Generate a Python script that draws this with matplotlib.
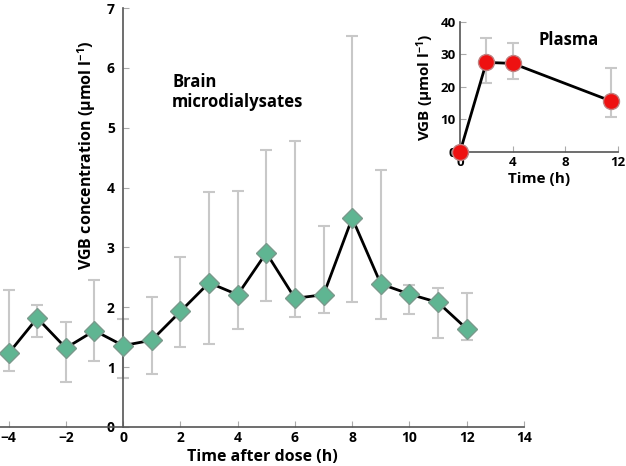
import matplotlib
matplotlib.use("Agg")
import matplotlib.pyplot as plt

plt.rcParams['font.family'] = ['Open Sans', 'DejaVu Sans']
plt.rcParams['font.weight'] = 'bold'
plt.rcParams['mathtext.fontset'] = 'custom'
plt.rcParams['mathtext.rm'] = 'Open Sans:bold'
plt.rcParams['mathtext.bf'] = 'Open Sans:bold'
plt.rcParams['mathtext.it'] = 'Open Sans:bold'
plt.rcParams['mathtext.default'] = 'bf'

# Brain microdialysates
brain_time = [-4, -3, -2, -1, 0, 1, 2, 3, 4, 5, 6, 7, 8, 9, 10, 11, 12]
brain_mean = [1.23, 1.82, 1.32, 1.61, 1.36, 1.45, 1.93, 2.41, 2.21, 2.91, 2.15, 2.21, 3.49, 2.39, 2.22, 2.08, 1.64]
brain_upper = [2.29, 2.03, 1.76, 2.46, 1.81, 2.17, 2.84, 3.93, 3.95, 4.62, 4.77, 3.35, 6.53, 4.30, 2.37, 2.32, 2.24]
brain_lower = [0.94, 1.50, 0.76, 1.10, 0.82, 0.88, 1.34, 1.39, 1.64, 2.10, 1.83, 1.91, 2.08, 1.80, 1.89, 1.48, 1.45]

# Plasma
plasma_time = [0, 2, 4, 11.5]
plasma_mean = [0, 27.5, 27.2, 15.6]
plasma_upper = [0, 35.1, 33.5, 25.7]
plasma_lower = [0, 21.1, 22.3, 10.8]

main_xticks = [-4, -2, 0, 2, 4, 6, 8, 10, 12, 14]
main_yticks = [0, 1, 2, 3, 4, 5, 6, 7]
inset_xticks = [0, 4, 8, 12]
inset_yticks = [0, 10, 20, 30, 40]

W, H = 626, 466
fig = plt.figure(figsize=(W / 100, H / 100), dpi=100)

green = '#5fb592'
grey_err = '#c8c8c8'
spine_col = '#555555'

# ---------- main axes ----------
ax = fig.add_axes([0 / W, (H - 427) / H, 524 / W, (427 - 8) / H])
ax.set_xlim(-4.3, 14)
ax.set_ylim(0, 7)
err_lo = [m - l for m, l in zip(brain_mean, brain_lower)]
err_hi = [u - m for m, u in zip(brain_mean, brain_upper)]
ax.errorbar(brain_time, brain_mean, yerr=[err_lo, err_hi], fmt='none',
            ecolor=grey_err, elinewidth=1.5, capsize=4, capthick=1.5, zorder=2)
ax.plot(brain_time, brain_mean, color='black', lw=2, zorder=3)
ax.plot(brain_time, brain_mean, ls='none', marker='D', ms=10.5, mfc=green,
        mec='#7a9a8c', mew=1, zorder=4)

for s in ['top', 'right']:
    ax.spines[s].set_visible(False)
ax.spines['left'].set_position(('data', 0))
for s in ['left', 'bottom']:
    ax.spines[s].set_color(spine_col)
    ax.spines[s].set_linewidth(1.2)
ax.set_xticks(main_xticks)
ax.set_yticks(main_yticks)
ax.set_xticklabels(['\u2212' + str(-t) if t < 0 else str(t) for t in main_xticks])
ax.tick_params(direction='in', length=4, color='#aaaaaa', labelsize=10, pad=3)
ax.tick_params(axis='y', pad=6)
fig.text(262 / W, 1 - 457 / H, 'Time after dose (h)', ha='center', va='center',
         fontsize=11.5, fontweight='bold')
fig.text(87 / W, 1 - 155 / H, 'VGB concentration (\u00b5mol l$^{-1}$)', rotation=90,
         ha='center', va='center', fontsize=11.5, fontweight='bold')
fig.text(172 / W, 1 - 92 / H, 'Brain\nmicrodialysates', ha='left', va='center',
         fontsize=12, fontweight='bold', linespacing=1.2)

# ---------- inset ----------
ins = fig.add_axes([460 / W, (H - 152) / H, 158 / W, (152 - 21.7) / H])
ins.set_xlim(0, 12)
ins.set_ylim(0, 40)
p_lo = [m - l for m, l in zip(plasma_mean, plasma_lower)]
p_hi = [u - m for m, u in zip(plasma_mean, plasma_upper)]
ins.errorbar(plasma_time, plasma_mean, yerr=[p_lo, p_hi], fmt='none',
             ecolor=grey_err, elinewidth=1.5, capsize=4, capthick=1.5, zorder=2)
ins.plot(plasma_time, plasma_mean, color='black', lw=2, zorder=3, clip_on=False)
ins.plot(plasma_time, plasma_mean, ls='none', marker='o', ms=11.5, mfc='#ee1111',
         mec='#c08080', mew=1, zorder=4, clip_on=False)
for s in ['top', 'right']:
    ins.spines[s].set_visible(False)
for s in ['left', 'bottom']:
    ins.spines[s].set_color(spine_col)
    ins.spines[s].set_linewidth(1.2)
ins.set_xticks(inset_xticks)
ins.set_yticks(inset_yticks)
ins.tick_params(direction='in', length=4, color='#aaaaaa', labelsize=9.5, pad=3)
ins.set_xlabel('Time (h)', fontsize=11, fontweight='bold', labelpad=2)
ins.set_ylabel('VGB (\u00b5mol l$^{-1}$)', fontsize=11, fontweight='bold', labelpad=3)
ins.text(0.69, 0.86, 'Plasma', transform=ins.transAxes, ha='center', va='center',
         fontsize=12, fontweight='bold')

fig.savefig('out.png', dpi=100)
